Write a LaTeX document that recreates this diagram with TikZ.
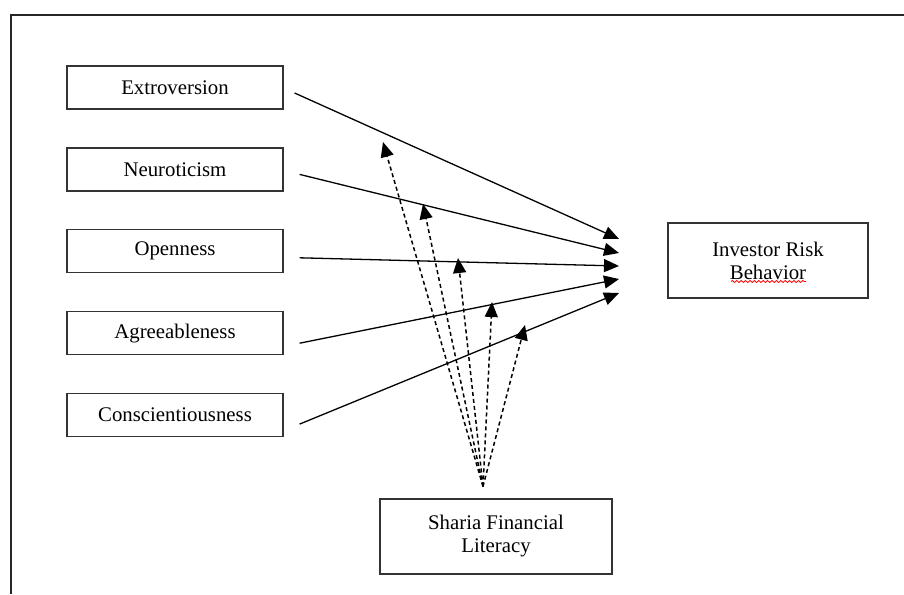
\documentclass[tikz,border=0pt]{standalone}
\usepackage{fontspec}
\setmainfont{Liberation Serif}
\usepackage{tikz}
\usetikzlibrary{arrows.meta, decorations.pathmorphing}
\tikzstyle{trait} = [rectangle, minimum width=108pt, minimum height=21.5pt, text centered, draw=black!80, line width=0.6pt, fill=white, font=\fontsize{10.4}{11.5}\selectfont]
\tikzstyle{outc} = [rectangle, minimum width=100pt, minimum height=37.5pt, align=center, draw=black!80, line width=0.6pt, fill=white, font=\fontsize{10.4}{11.5}\selectfont]
\tikzstyle{moder} = [rectangle, minimum width=116pt, minimum height=37.5pt, align=center, draw=black!80, line width=0.6pt, fill=white, font=\fontsize{10.4}{11.5}\selectfont]
\tikzstyle{arrow} = [line width=0.65pt, -{Triangle[length=7.5pt,width=6.5pt]}]
\tikzstyle{darrow} = [arrow, line width=0.75pt, dash pattern=on 2pt off 1.5pt]

\begin{document}
\begin{tikzpicture}[x=0.5pt, y=-0.5pt, node distance=40.95pt]

\useasboundingbox (0,0) rectangle (904,594);
\draw [line width=0.9pt, black!85] (11,594) -- (11,15) -- (904,15);

\node (ext) [trait] at (175,87.5) {Extroversion};
\node (neu) [trait, below of=ext] {Neuroticism};
\node (opn) [trait, below of=neu] {Openness};
\node (agr) [trait, below of=opn] {Agreeableness};
\node (con) [trait, below of=agr] {Conscientiousness};

\node (irb) [outc] at (768,260.5) {Investor Risk\\Behavior};
\node (sfl) [moder] at (496,536.5) {Sharia Financial\\Literacy};

\draw [red, line width=0.4pt, decorate, decoration={snake, amplitude=0.5pt, segment length=2.2pt}] ([shift={(-37,21)}]irb.center) -- ([shift={(38,21)}]irb.center);

\coordinate (e1) at (619,239);
\coordinate (e2) at (619,253);
\coordinate (e3) at (619,266);
\coordinate (e4) at (619,279);
\coordinate (e5) at (619,293);

\draw [arrow] ([shift={(11,5.5)}]ext.east) -- (e1);
\draw [arrow] ([shift={(16,5)}]neu.east) -- (e2);
\draw [arrow] ([shift={(16,6.5)}]opn.east) -- (e3);
\draw [arrow] ([shift={(16,10)}]agr.east) -- (e4);
\draw [arrow] ([shift={(16,9)}]con.east) -- (e5);

\coordinate (src) at ([shift={(-13,-12)}]sfl.north);
\coordinate (m1) at (383,142);
\coordinate (m2) at (423,204);
\coordinate (m3) at (458,258);
\coordinate (m4) at (492,302);
\coordinate (m5) at (525,325);

\draw [darrow] (src) -- (m1);
\draw [darrow] (src) -- (m2);
\draw [darrow] (src) -- (m3);
\draw [darrow] (src) -- (m4);
\draw [darrow] (src) -- (m5);

\end{tikzpicture}
\end{document}
